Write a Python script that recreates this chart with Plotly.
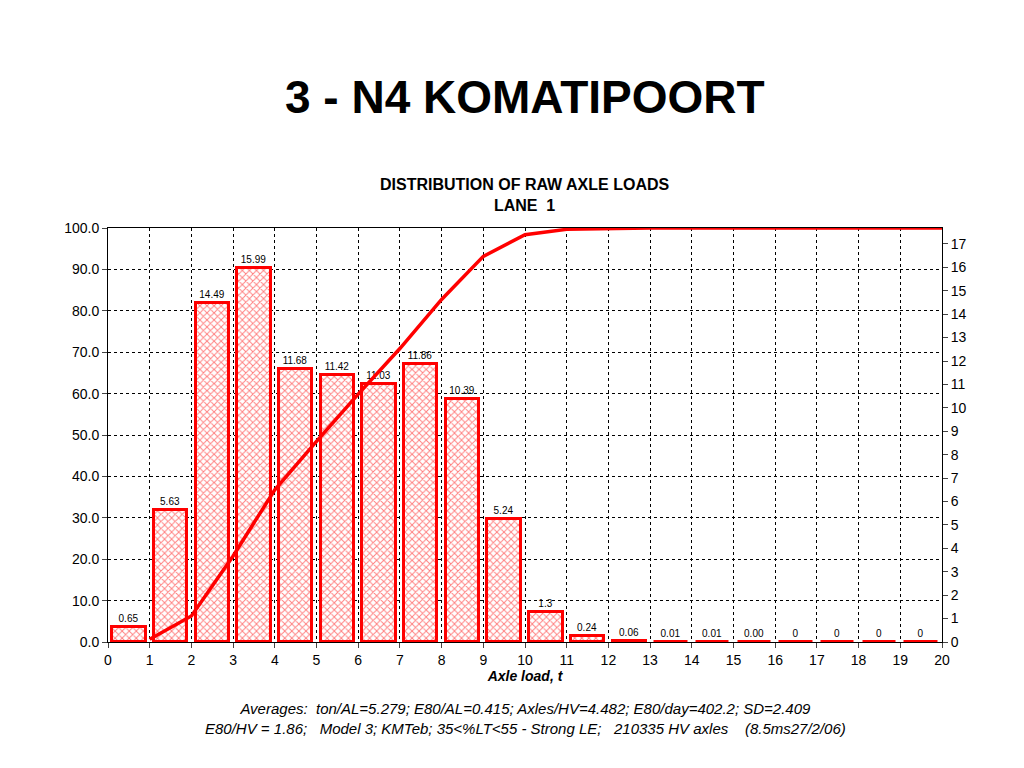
import plotly.graph_objects as go

# axle load bins (t) and percentage of axles per bin
bin_mid = [i + 0.5 for i in range(20)]
pct = [0.65, 5.63, 14.49, 15.99, 11.68, 11.42, 11.03, 11.86, 10.39, 5.24,
       1.3, 0.24, 0.06, 0.01, 0.01, 0.00, 0, 0, 0, 0]
pct_text = ["0.65", "5.63", "14.49", "15.99", "11.68", "11.42", "11.03", "11.86", "10.39", "5.24",
            "1.3", "0.24", "0.06", "0.01", "0.01", "0.00", "0", "0", "0", "0"]

# cumulative distribution (%)
cum_x = [1, 2, 3, 4, 5, 6, 7, 8, 9, 10, 11, 12, 13, 14, 15, 16, 17, 18, 19, 20]
cum_y = [0.65, 6.28, 20.77, 36.76, 48.44, 59.86, 70.89, 82.75, 93.14, 98.38,
         99.68, 99.92, 99.98, 99.99, 100.0, 100.0, 100.0, 100.0, 100.0, 100.0]

RED = "#ff0000"
fig = go.Figure()
fig.add_trace(go.Bar(x=bin_mid, y=pct, yaxis="y", width=0.8,
                     marker=dict(color="white", line=dict(color=RED, width=3),
                                 pattern=dict(shape="x", fgcolor=RED, size=5, solidity=0.35)),
                     text=pct_text, textposition="outside", cliponaxis=False,
                     textfont=dict(size=10, color="black", family="Liberation Sans")))
fig.add_trace(go.Scatter(x=cum_x, y=cum_y, yaxis="y2", mode="lines",
                         line=dict(color=RED, width=3.5)))

axfont = dict(family="Liberation Sans", size=14, color="black")
fig.update_layout(
    width=1024, height=768, showlegend=False, plot_bgcolor="white", paper_bgcolor="white",
    margin=dict(l=100, r=90, t=220, b=134), bargap=0,
    font=axfont,
    xaxis=dict(range=[0, 20], dtick=1, showgrid=True, gridcolor="black", griddash="dot",
               gridwidth=1, showline=True, linecolor="black", mirror=True, ticks="outside",
               tickfont=axfont, zeroline=False,
               title=dict(text="<b><i>Axle load, t</i></b>", font=dict(size=14), standoff=4)),
    yaxis=dict(range=[0, 17.68], dtick=1, side="right", showgrid=False,
               showline=False, ticks="outside", tickfont=axfont, zeroline=False),
    yaxis2=dict(range=[0, 100], dtick=10, tickformat=".1f", overlaying="y", side="left",
                showgrid=True, gridcolor="black", griddash="dot", showline=True,
                linecolor="black", mirror=True, ticks="outside", zeroline=False,
                tickfont=axfont),
    annotations=[
        dict(text="<b>3 - N4 KOMATIPOORT</b>", x=0.5, y=1.316, xref="paper", yref="paper",
             yanchor="middle", showarrow=False, font=dict(size=46, family="Liberation Sans")),
        dict(text="<b>DISTRIBUTION OF RAW AXLE LOADS<br>LANE  1</b>", x=0.5, xref="paper",
             y=1.03, yref="paper", yanchor="bottom", showarrow=False,
             font=dict(size=16, family="Liberation Sans")),
        dict(text="<i>Averages:  ton/AL=5.279; E80/AL=0.415; Axles/HV=4.482; E80/day=402.2; SD=2.409<br>"
                  "E80/HV = 1.86;   Model 3; KMTeb; 35<%LT<55 - Strong LE;   210335 HV axles    (8.5ms27/2/06)</i>",
             x=0.5, xref="paper", y=-0.135, yref="paper", yanchor="top", showarrow=False,
             font=dict(size=15, family="Liberation Sans")),
    ],
)
fig.write_html("out.html")
